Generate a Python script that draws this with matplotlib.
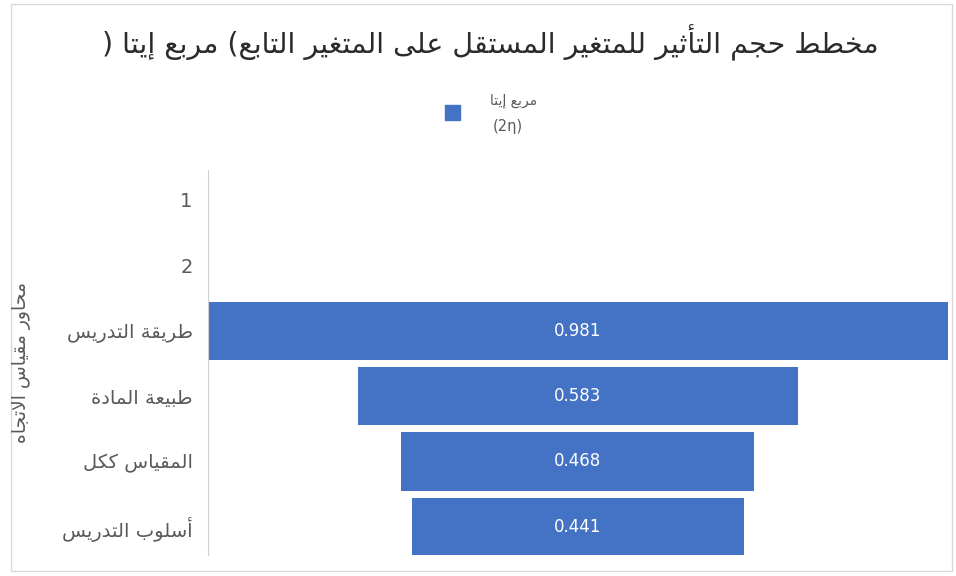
# effect size funnel chart (eta squared)

import matplotlib
matplotlib.use('Agg')
import matplotlib.pyplot as plt
import numpy as np
from matplotlib.patches import Rectangle

#================ DATA =========================================================

title = "مخطط حجم التأثير للمتغير المستقل على المتغير التابع( مربع إيتا )"
ytitle = "محاور مقياس الاتجاه"
series_name = "مربع إيتا"
series_sub = "(2η)"

categories = ["1", "2", "طريقة التدريس", "طبيعة المادة", "المقياس ككل", "أسلوب التدريس"]
values = [np.nan, np.nan, 0.981, 0.583, 0.468, 0.441]

#================ ARABIC SHAPING ===============================================
# matplotlib has no complex text layout, so map letters to their
# presentation forms and reverse for left-to-right drawing

FORMS = {'ء': (0xFE80, 1), 'آ': (0xFE81, 2), 'أ': (0xFE83, 2), 'ؤ': (0xFE85, 2),
         'إ': (0xFE87, 2), 'ئ': (0xFE89, 4), 'ا': (0xFE8D, 2), 'ب': (0xFE8F, 4),
         'ة': (0xFE93, 2), 'ت': (0xFE95, 4), 'ث': (0xFE99, 4), 'ج': (0xFE9D, 4),
         'ح': (0xFEA1, 4), 'خ': (0xFEA5, 4), 'د': (0xFEA9, 2), 'ذ': (0xFEAB, 2),
         'ر': (0xFEAD, 2), 'ز': (0xFEAF, 2), 'س': (0xFEB1, 4), 'ش': (0xFEB5, 4),
         'ص': (0xFEB9, 4), 'ض': (0xFEBD, 4), 'ط': (0xFEC1, 4), 'ظ': (0xFEC5, 4),
         'ع': (0xFEC9, 4), 'غ': (0xFECD, 4), 'ف': (0xFED1, 4), 'ق': (0xFED5, 4),
         'ك': (0xFED9, 4), 'ل': (0xFEDD, 4), 'م': (0xFEE1, 4), 'ن': (0xFEE5, 4),
         'ه': (0xFEE9, 4), 'و': (0xFEED, 2), 'ى': (0xFEEF, 2), 'ي': (0xFEF1, 4)}
LAMALEF = {'آ': 0xFEF5, 'أ': 0xFEF7, 'إ': 0xFEF9, 'ا': 0xFEFB}


def shape(text):
	out = []
	n = len(text)
	i = 0
	prev_joins = False
	while i < n:
		c = text[i]
		if c not in FORMS:
			out.append(c)
			prev_joins = False
			i += 1
			continue
		base, nf = FORMS[c]
		if c == 'ل' and i + 1 < n and text[i + 1] in LAMALEF:
			out.append(chr(LAMALEF[text[i + 1]] + (1 if prev_joins else 0)))
			prev_joins = False
			i += 2
			continue
		nxt = text[i + 1] if i + 1 < n else ''
		next_joins = nf == 4 and nxt in FORMS
		if nf == 1:
			g = base
		elif prev_joins and next_joins:
			g = base + 3
		elif prev_joins:
			g = base + 1
		elif next_joins:
			g = base + 2
		else:
			g = base
		out.append(chr(g))
		prev_joins = nf == 4
		i += 1
	return ''.join(out)[::-1]

#================ PLOTTING =====================================================

blue = '#4472C4'
grey = '#595959'

fig = plt.figure(figsize=(9.56, 5.76), dpi=100)
plt.rcParams['font.family'] = ['DejaVu Sans']

# outer chart border
fig.patches.append(Rectangle((0.011, 0.008), 0.985, 0.985, transform=fig.transFigure,
                             fill=False, edgecolor='#d9d9d9', linewidth=1))

ax = fig.add_axes([0.2176, 0.0365, 0.7740, 0.6685])

ypos = np.arange(len(categories))
vals = np.array(values)
ax.barh(ypos, vals, left=-vals / 2, height=0.89, color=blue)

for y, v in zip(ypos, vals):
	if not np.isnan(v):
		ax.text(0, y, '%.3f' % v, color='white', fontsize=12,
		        ha='center', va='center')

vmax = np.nanmax(vals)
ax.set_xlim(-vmax / 2, vmax / 2)
ax.set_ylim(5.43, -0.46)
ax.set_yticks(ypos)
ax.set_yticklabels([shape(c) for c in categories], fontsize=14, color=grey)
ax.tick_params(axis='y', length=0, pad=11)
ax.set_xticks([])

for s in ['top', 'right', 'bottom']:
	ax.spines[s].set_visible(False)
ax.spines['left'].set_color('#d0d0d0')

# axis title
fig.text(0.022, 0.37, shape(ytitle), rotation=90, fontsize=13.5, color=grey,
         ha='center', va='center')

# chart title
fig.text(490 / 956.0, 0.925, shape(title), fontsize=20.5, color='#2b2b2b',
         ha='center', va='center')

# legend
fig.patches.append(Rectangle((445 / 956.0, 1 - 120 / 576.0), 15 / 956.0, 15 / 576.0,
                             transform=fig.transFigure, color=blue))
fig.text(514 / 956.0, 1 - 101 / 576.0, shape(series_name), fontsize=10, color=grey,
         ha='center', va='center')
fig.text(508 / 956.0, 1 - 127 / 576.0, series_sub, fontsize=10.5, color=grey,
         ha='center', va='center')

plt.savefig('out.png', dpi=100)
